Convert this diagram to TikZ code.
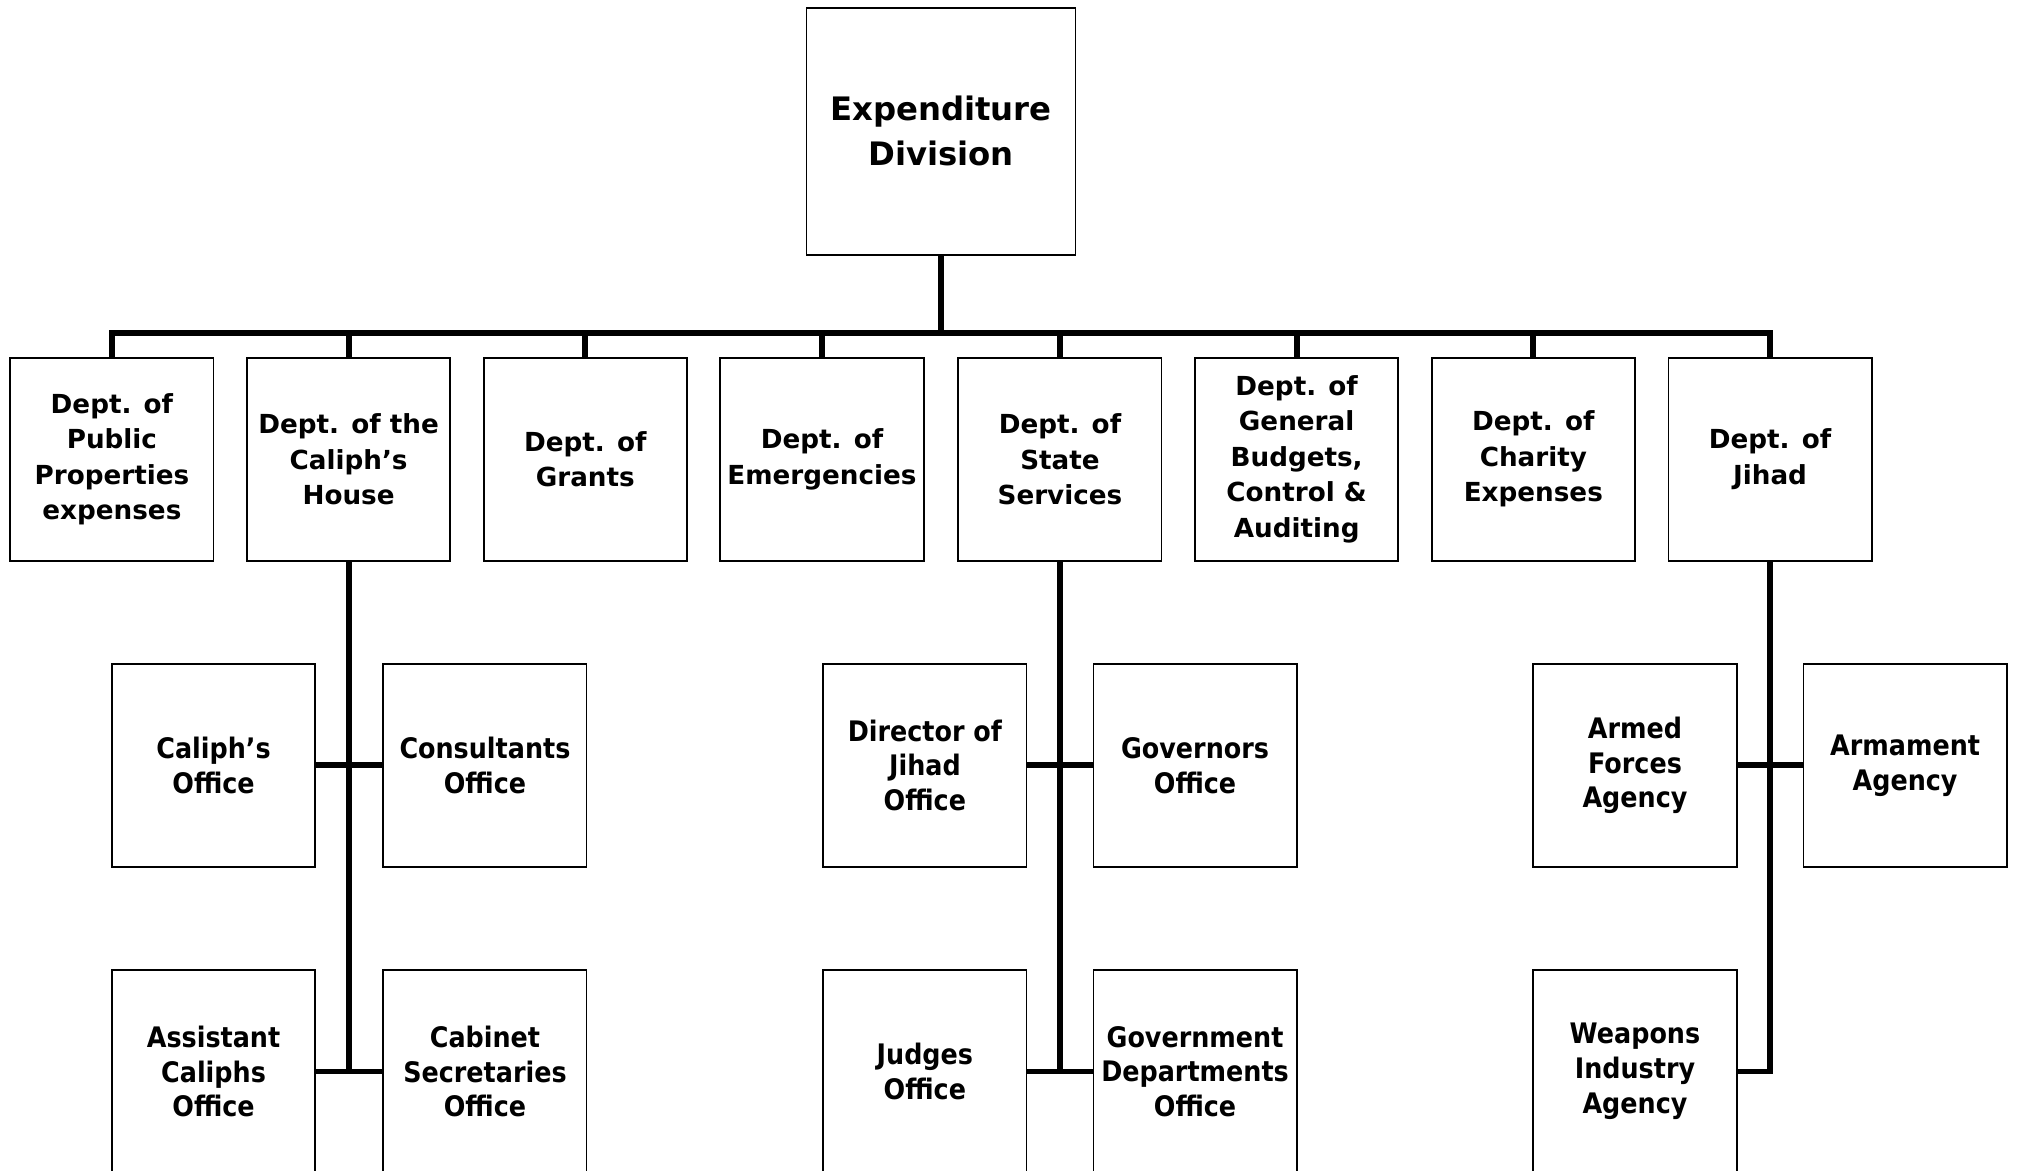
\documentclass[tikz,border=0pt]{standalone}
\usepackage{fontspec}
\setmainfont{DejaVu Sans}
\newfontfamily\narrowfont{DejaVu Sans}[FakeStretch=0.9]

\begin{document}
\begin{tikzpicture}[
    x=0.2mm,
    y=-0.2mm,
    every node/.style={font=\bfseries},
    division/.style={
        rectangle,
        draw,
        line width=0.8pt,
        minimum width=4.18cm,
        minimum height=3.84cm,
        align=center,
        font=\fontsize{14.3}{19.8}\selectfont\bfseries
    },
    dept/.style={
        rectangle,
        draw,
        line width=0.8pt,
        minimum width=3.16cm,
        minimum height=3.16cm,
        inner sep=1pt,
        align=center,
        font=\fontsize{11.6}{15.7}\selectfont\bfseries
    },
    office/.style={
        dept,
        font=\narrowfont\fontsize{12.5}{15.4}\selectfont\bfseries
    },
    link/.style={line width=2.6pt}
]
    \useasboundingbox (0,0) rectangle (1568,910);

    % === DIVISION ===
    \node[division] (expdiv) at (731.5,102) {Expenditure\\Division};

    % === DEPARTMENTS ===
    \foreach \x/\name/\label in {
        87/publicdept/{Dept. of\\Public\\Properties\\expenses},
        271/housedept/{Dept. of the\\Caliph’s\\House},
        455/grantsdept/{Dept. of\\Grants},
        639/emergdept/{Dept. of\\Emergencies},
        824/statedept/{Dept. of\\State\\Services},
        1008/budgetdept/{Dept. of\\General\\Budgets,\\Control \&\\Auditing},
        1192/charitydept/{Dept. of\\Charity\\Expenses},
        1376/jihaddept/{Dept. of\\Jihad}} {
        \node[dept] (\name) at (\x,357) {\label};
    }

    % Bus from division to departments
    \foreach \name in {publicdept,housedept,grantsdept,emergdept,statedept,budgetdept,charitydept,jihaddept} {
        \draw[link] (expdiv.south) -- ++(0,60) -| (\name.north);
    }

    % === CALIPH'S HOUSE OFFICES ===
    \node[office] (caliphoffice) at (166,595) {Caliph’s\\Office};
    \node[office] (consultoffice) at (377,595) {Consultants\\Office};
    \node[office] (assistoffice) at (166,833) {Assistant\\Caliphs\\Office};
    \node[office] (cabinetoffice) at (377,833) {Cabinet\\Secretaries\\Office};

    \draw[link] (housedept.south) -- (housedept.south |- assistoffice.east);
    \draw[link] (caliphoffice.east) -- (consultoffice.west);
    \draw[link] (assistoffice.east) -- (cabinetoffice.west);

    % === STATE SERVICES OFFICES ===
    \node[office] (directoroffice) at (719,595) {Director of\\Jihad\\Office};
    \node[office] (governoffice) at (929,595) {Governors\\Office};
    \node[office] (judgesoffice) at (719,833) {Judges\\Office};
    \node[office] (govdeptoffice) at (929,833) {Government\\Departments\\Office};

    \draw[link] (statedept.south) -- (statedept.south |- judgesoffice.east);
    \draw[link] (directoroffice.east) -- (governoffice.west);
    \draw[link] (judgesoffice.east) -- (govdeptoffice.west);

    % === JIHAD AGENCIES ===
    \node[office] (armedagency) at (1271,595) {Armed\\Forces\\Agency};
    \node[office] (armamentagency) at (1481,595) {Armament\\Agency};
    \node[office] (weaponsagency) at (1271,833) {Weapons\\Industry\\Agency};

    \draw[link] (jihaddept.south) |- (weaponsagency.east);
    \draw[link] (armedagency.east) -- (armamentagency.west);
\end{tikzpicture}
\end{document}
